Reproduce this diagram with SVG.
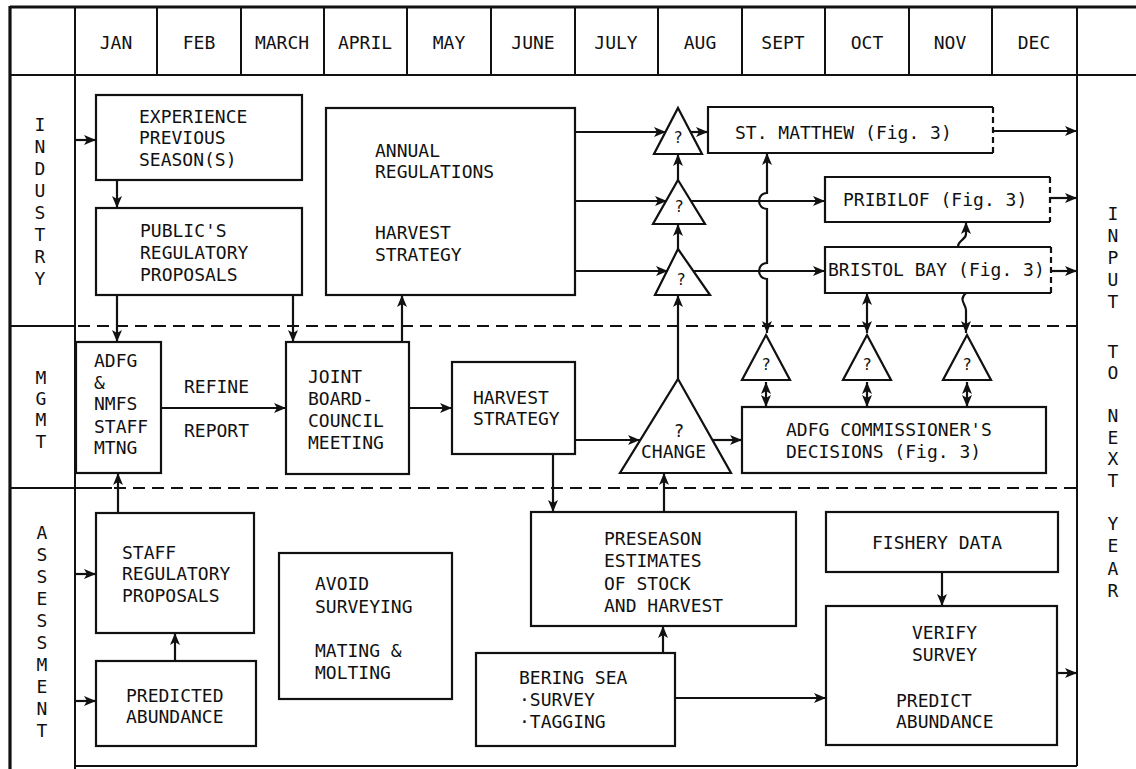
<svg xmlns="http://www.w3.org/2000/svg" width="1136" height="769" viewBox="0 0 1136 769">
  <defs>
    <style>
      text { font-family: "DejaVu Sans Mono", "Liberation Mono", monospace; font-size: 18px; fill: #111; }
      .mid { text-anchor: middle; }
      .q { font-size: 16px; text-anchor: middle; }
      .box { fill: none; stroke: #111; stroke-width: 2.2; }
      .frame { fill: none; stroke: #111; stroke-width: 2; }
      .thick { fill: none; stroke: #111; stroke-width: 3.2; }
      .dash { fill: none; stroke: #111; stroke-width: 2; stroke-dasharray: 12 7; }
      .dashedge { fill: none; stroke: #111; stroke-width: 2.2; stroke-dasharray: 6 4; }
      .wire { fill: none; stroke: #111; stroke-width: 2.2; marker-end: url(#arrow); }
      .wire2 { fill: none; stroke: #111; stroke-width: 2.2; marker-end: url(#arrow); marker-start: url(#arrow); }
      .tri { fill: none; stroke: #111; stroke-width: 2.2; stroke-linejoin: miter; }
    </style>
    <marker id="arrow" markerUnits="userSpaceOnUse" markerWidth="14" markerHeight="10" refX="12" refY="5" orient="auto-start-reverse">
      <path d="M0,0 L12,5 L0,10 L3,5 z" fill="#111"/>
    </marker>
  </defs>

  <rect width="1136" height="769" fill="#fff"/>

  <!-- calendar frame and row bands -->
  <g id="frame">
    <line class="thick" x1="10" y1="6" x2="10" y2="769"/>
    <line class="thick" x1="10" y1="7" x2="1136" y2="7"/>
    <line class="frame" x1="10" y1="75" x2="1136" y2="75"/>
    <g class="frame">
      <line x1="75" y1="7" x2="75" y2="769"/>
      <line x1="157" y1="7" x2="157" y2="75"/>
      <line x1="241" y1="7" x2="241" y2="75"/>
      <line x1="324" y1="7" x2="324" y2="75"/>
      <line x1="407" y1="7" x2="407" y2="75"/>
      <line x1="491" y1="7" x2="491" y2="75"/>
      <line x1="575" y1="7" x2="575" y2="75"/>
      <line x1="658" y1="7" x2="658" y2="75"/>
      <line x1="742" y1="7" x2="742" y2="75"/>
      <line x1="825" y1="7" x2="825" y2="75"/>
      <line x1="909" y1="7" x2="909" y2="75"/>
      <line x1="992" y1="7" x2="992" y2="75"/>
      <line x1="1077" y1="7" x2="1077" y2="766"/>
      <line x1="75" y1="766" x2="1077" y2="766"/>
      <line x1="10" y1="326" x2="75" y2="326"/>
      <line x1="10" y1="488" x2="112" y2="488"/>
    </g>
    <line class="dash" x1="78" y1="326" x2="1077" y2="326"/>
    <line class="dash" x1="114" y1="488" x2="1077" y2="488"/>
  </g>

  <g id="months">
    <text class="mid" x="116" y="49">JAN</text>
    <text class="mid" x="199" y="49">FEB</text>
    <text class="mid" x="282" y="49">MARCH</text>
    <text class="mid" x="365" y="49">APRIL</text>
    <text class="mid" x="449" y="49">MAY</text>
    <text class="mid" x="533" y="49">JUNE</text>
    <text class="mid" x="616" y="49">JULY</text>
    <text class="mid" x="700" y="49">AUG</text>
    <text class="mid" x="783" y="49">SEPT</text>
    <text class="mid" x="867" y="49">OCT</text>
    <text class="mid" x="950" y="49">NOV</text>
    <text class="mid" x="1034" y="49">DEC</text>
  </g>

  <g id="row-labels">
    <g id="industry-label">
      <text class="mid" x="40" y="131">I</text>
      <text class="mid" x="40" y="153">N</text>
      <text class="mid" x="40" y="175">D</text>
      <text class="mid" x="40" y="197">U</text>
      <text class="mid" x="40" y="219">S</text>
      <text class="mid" x="40" y="241">T</text>
      <text class="mid" x="40" y="263">R</text>
      <text class="mid" x="40" y="285">Y</text>
    </g>
    <g id="mgmt-label">
      <text class="mid" x="41" y="384">M</text>
      <text class="mid" x="41" y="405">G</text>
      <text class="mid" x="41" y="426">M</text>
      <text class="mid" x="41" y="448">T</text>
    </g>
    <g id="assessment-label">
      <text class="mid" x="42" y="539">A</text>
      <text class="mid" x="42" y="561">S</text>
      <text class="mid" x="42" y="583">S</text>
      <text class="mid" x="42" y="605">E</text>
      <text class="mid" x="42" y="627">S</text>
      <text class="mid" x="42" y="649">S</text>
      <text class="mid" x="42" y="671">M</text>
      <text class="mid" x="42" y="693">E</text>
      <text class="mid" x="42" y="715">N</text>
      <text class="mid" x="42" y="737">T</text>
    </g>
    <g id="next-year-label">
      <text class="mid" x="1113" y="220">I</text>
      <text class="mid" x="1113" y="242">N</text>
      <text class="mid" x="1113" y="264">P</text>
      <text class="mid" x="1113" y="286">U</text>
      <text class="mid" x="1113" y="308">T</text>
      <text class="mid" x="1113" y="358">T</text>
      <text class="mid" x="1113" y="379">O</text>
      <text class="mid" x="1113" y="422">N</text>
      <text class="mid" x="1113" y="444">E</text>
      <text class="mid" x="1113" y="465">X</text>
      <text class="mid" x="1113" y="487">T</text>
      <text class="mid" x="1113" y="530">Y</text>
      <text class="mid" x="1113" y="552">E</text>
      <text class="mid" x="1113" y="575">A</text>
      <text class="mid" x="1113" y="597">R</text>
    </g>
  </g>

  <!-- industry band -->
  <g id="experience">
    <rect class="box" x="96" y="95" width="206" height="85"/>
    <text x="139" y="123">EXPERIENCE</text>
    <text x="139" y="144">PREVIOUS</text>
    <text x="139" y="166">SEASON(S)</text>
  </g>
  <g id="public-proposals">
    <rect class="box" x="96" y="208" width="206" height="87"/>
    <text x="140" y="237">PUBLIC'S</text>
    <text x="140" y="259">REGULATORY</text>
    <text x="140" y="281">PROPOSALS</text>
  </g>
  <g id="annual-regulations">
    <rect class="box" x="326" y="108" width="249" height="187"/>
    <text x="375" y="157">ANNUAL</text>
    <text x="375" y="178">REGULATIONS</text>
    <text x="375" y="239">HARVEST</text>
    <text x="375" y="261">STRATEGY</text>
  </g>
  <g id="check-1">
    <path class="tri" d="M678,108 L702,154 L654,154 Z"/>
    <text class="q" x="678" y="143">?</text>
  </g>
  <g id="check-2">
    <path class="tri" d="M678,180 L705,224 L653,224 Z"/>
    <text class="q" x="679" y="212">?</text>
  </g>
  <g id="check-3">
    <path class="tri" d="M678,249 L710,295 L655,295 Z"/>
    <text class="q" x="681" y="285">?</text>
  </g>
  <g id="st-matthew">
    <path class="box" d="M993,107 L708,107 L708,153 L993,153"/>
    <line class="dashedge" x1="993" y1="107" x2="993" y2="153"/>
    <text x="735" y="139">ST. MATTHEW (Fig. 3)</text>
  </g>
  <g id="pribilof">
    <path class="box" d="M1050,177 L825,177 L825,222 L1050,222"/>
    <line class="dashedge" x1="1050" y1="177" x2="1050" y2="222"/>
    <text x="843" y="206">PRIBILOF (Fig. 3)</text>
  </g>
  <g id="bristol-bay">
    <path class="box" d="M1051,247 L825,247 L825,293 L1051,293"/>
    <line class="dashedge" x1="1051" y1="247" x2="1051" y2="293"/>
    <text x="828" y="276">BRISTOL BAY (Fig. 3)</text>
  </g>

  <!-- management band -->
  <g id="staff-meeting">
    <rect class="box" x="76" y="342" width="85" height="131"/>
    <text x="94" y="367">ADFG</text>
    <text x="94" y="389">&amp;</text>
    <text x="94" y="410">NMFS</text>
    <text x="94" y="433">STAFF</text>
    <text x="94" y="454">MTNG</text>
  </g>
  <g id="refine-report">
    <text x="184" y="393">REFINE</text>
    <text x="184" y="437">REPORT</text>
  </g>
  <g id="joint-meeting">
    <rect class="box" x="286" y="342" width="123" height="132"/>
    <text x="308" y="383">JOINT</text>
    <text x="308" y="405">BOARD-</text>
    <text x="308" y="427">COUNCIL</text>
    <text x="308" y="449">MEETING</text>
  </g>
  <g id="harvest-strategy">
    <rect class="box" x="452" y="362" width="123" height="92"/>
    <text x="473" y="404">HARVEST</text>
    <text x="473" y="425">STRATEGY</text>
  </g>
  <g id="change">
    <path class="tri" d="M678,379 L731,473 L620,473 Z"/>
    <text class="mid" x="679" y="437">?</text>
    <text x="641" y="458">CHANGE</text>
  </g>
  <g id="check-a">
    <path class="tri" d="M766,335 L790,380 L742,380 Z"/>
    <text class="q" x="766" y="370">?</text>
  </g>
  <g id="check-b">
    <path class="tri" d="M867,335 L891,380 L843,380 Z"/>
    <text class="q" x="867" y="370">?</text>
  </g>
  <g id="check-c">
    <path class="tri" d="M967,335 L991,380 L943,380 Z"/>
    <text class="q" x="967" y="370">?</text>
  </g>
  <g id="commissioner">
    <rect class="box" x="742" y="407" width="304" height="66"/>
    <text x="786" y="436">ADFG COMMISSIONER'S</text>
    <text x="786" y="458">DECISIONS (Fig. 3)</text>
  </g>

  <!-- assessment band -->
  <g id="staff-proposals">
    <rect class="box" x="96" y="513" width="158" height="120"/>
    <text x="122" y="559">STAFF</text>
    <text x="122" y="580">REGULATORY</text>
    <text x="122" y="602">PROPOSALS</text>
  </g>
  <g id="predicted-abundance">
    <rect class="box" x="96" y="661" width="160" height="85"/>
    <text x="126" y="702">PREDICTED</text>
    <text x="126" y="723">ABUNDANCE</text>
  </g>
  <g id="avoid-surveying">
    <rect class="box" x="279" y="553" width="173" height="146"/>
    <text x="315" y="590">AVOID</text>
    <text x="315" y="613">SURVEYING</text>
    <text x="315" y="657">MATING &amp;</text>
    <text x="315" y="679">MOLTING</text>
  </g>
  <g id="preseason">
    <rect class="box" x="531" y="512" width="265" height="114"/>
    <text x="604" y="545">PRESEASON</text>
    <text x="604" y="567">ESTIMATES</text>
    <text x="604" y="590">OF STOCK</text>
    <text x="604" y="612">AND HARVEST</text>
  </g>
  <g id="fishery-data">
    <rect class="box" x="826" y="512" width="232" height="60"/>
    <text x="872" y="549">FISHERY DATA</text>
  </g>
  <g id="verify-predict">
    <rect class="box" x="826" y="606" width="231" height="139"/>
    <text x="912" y="639">VERIFY</text>
    <text x="912" y="661">SURVEY</text>
    <text x="896" y="707">PREDICT</text>
    <text x="896" y="728">ABUNDANCE</text>
  </g>
  <g id="bering-sea">
    <rect class="box" x="476" y="653" width="199" height="93"/>
    <text x="519" y="684">BERING SEA</text>
    <text x="519" y="706">·SURVEY</text>
    <text x="519" y="728">·TAGGING</text>
  </g>

  <g id="connectors">
    <!-- industry -->
    <line class="wire" x1="76" y1="140" x2="96" y2="140"/>
    <line class="wire" x1="117" y1="180" x2="117" y2="208"/>
    <line class="wire" x1="117" y1="295" x2="117" y2="342"/>
    <line class="wire" x1="293" y1="295" x2="293" y2="342"/>
    <line class="wire" x1="402" y1="342" x2="402" y2="295"/>
    <line class="wire" x1="575" y1="132" x2="666" y2="132"/>
    <line class="wire" x1="575" y1="201" x2="667" y2="201"/>
    <line class="wire" x1="575" y1="271" x2="668" y2="271"/>
    <line class="wire" x1="691" y1="132" x2="708" y2="132"/>
    <line class="wire" x1="691" y1="201" x2="825" y2="201"/>
    <line class="wire" x1="693" y1="271" x2="825" y2="271"/>
    <line class="wire" x1="678" y1="180" x2="678" y2="154"/>
    <line class="wire" x1="678" y1="249" x2="678" y2="224"/>
    <line class="wire" x1="678" y1="379" x2="678" y2="295"/>
    <line class="wire" x1="993" y1="131" x2="1077" y2="131"/>
    <line class="wire" x1="1050" y1="198" x2="1077" y2="198"/>
    <line class="wire" x1="1051" y1="271" x2="1077" y2="271"/>
    <path class="wire2" d="M767,333 L767,279 A8,8 0 0 1 767,263 L767,209 A8,8 0 0 1 767,193 L767,153"/>
    <line class="wire2" x1="867" y1="333" x2="867" y2="293"/>
    <path class="wire" d="M966,293 C958,300 966,304 966,310 L966,333" style="marker-end:url(#arrow)"/>
    <path class="wire" d="M958,247 C958,240 966,240 966,234 L966,222"/>
    <!-- management -->
    <line class="wire2" x1="766" y1="382" x2="766" y2="407"/>
    <line class="wire2" x1="867" y1="382" x2="867" y2="407"/>
    <line class="wire2" x1="967" y1="382" x2="967" y2="407"/>
    <line class="wire" x1="161" y1="408" x2="286" y2="408"/>
    <line class="wire" x1="409" y1="408" x2="452" y2="408"/>
    <line class="wire" x1="575" y1="440" x2="640" y2="440"/>
    <line class="wire" x1="712" y1="440" x2="742" y2="440"/>
    <line class="wire" x1="664" y1="512" x2="664" y2="473"/>
    <line class="wire" x1="553" y1="454" x2="553" y2="512"/>
    <!-- assessment -->
    <line class="wire" x1="118" y1="513" x2="118" y2="473"/>
    <line class="wire" x1="76" y1="574" x2="96" y2="574"/>
    <line class="wire" x1="76" y1="701" x2="96" y2="701"/>
    <line class="wire" x1="175" y1="661" x2="175" y2="633"/>
    <line class="wire" x1="663" y1="653" x2="663" y2="626"/>
    <line class="wire" x1="675" y1="698" x2="826" y2="698"/>
    <line class="wire" x1="942" y1="572" x2="942" y2="606"/>
    <line class="wire" x1="1057" y1="673" x2="1077" y2="673"/>
  </g>
</svg>
